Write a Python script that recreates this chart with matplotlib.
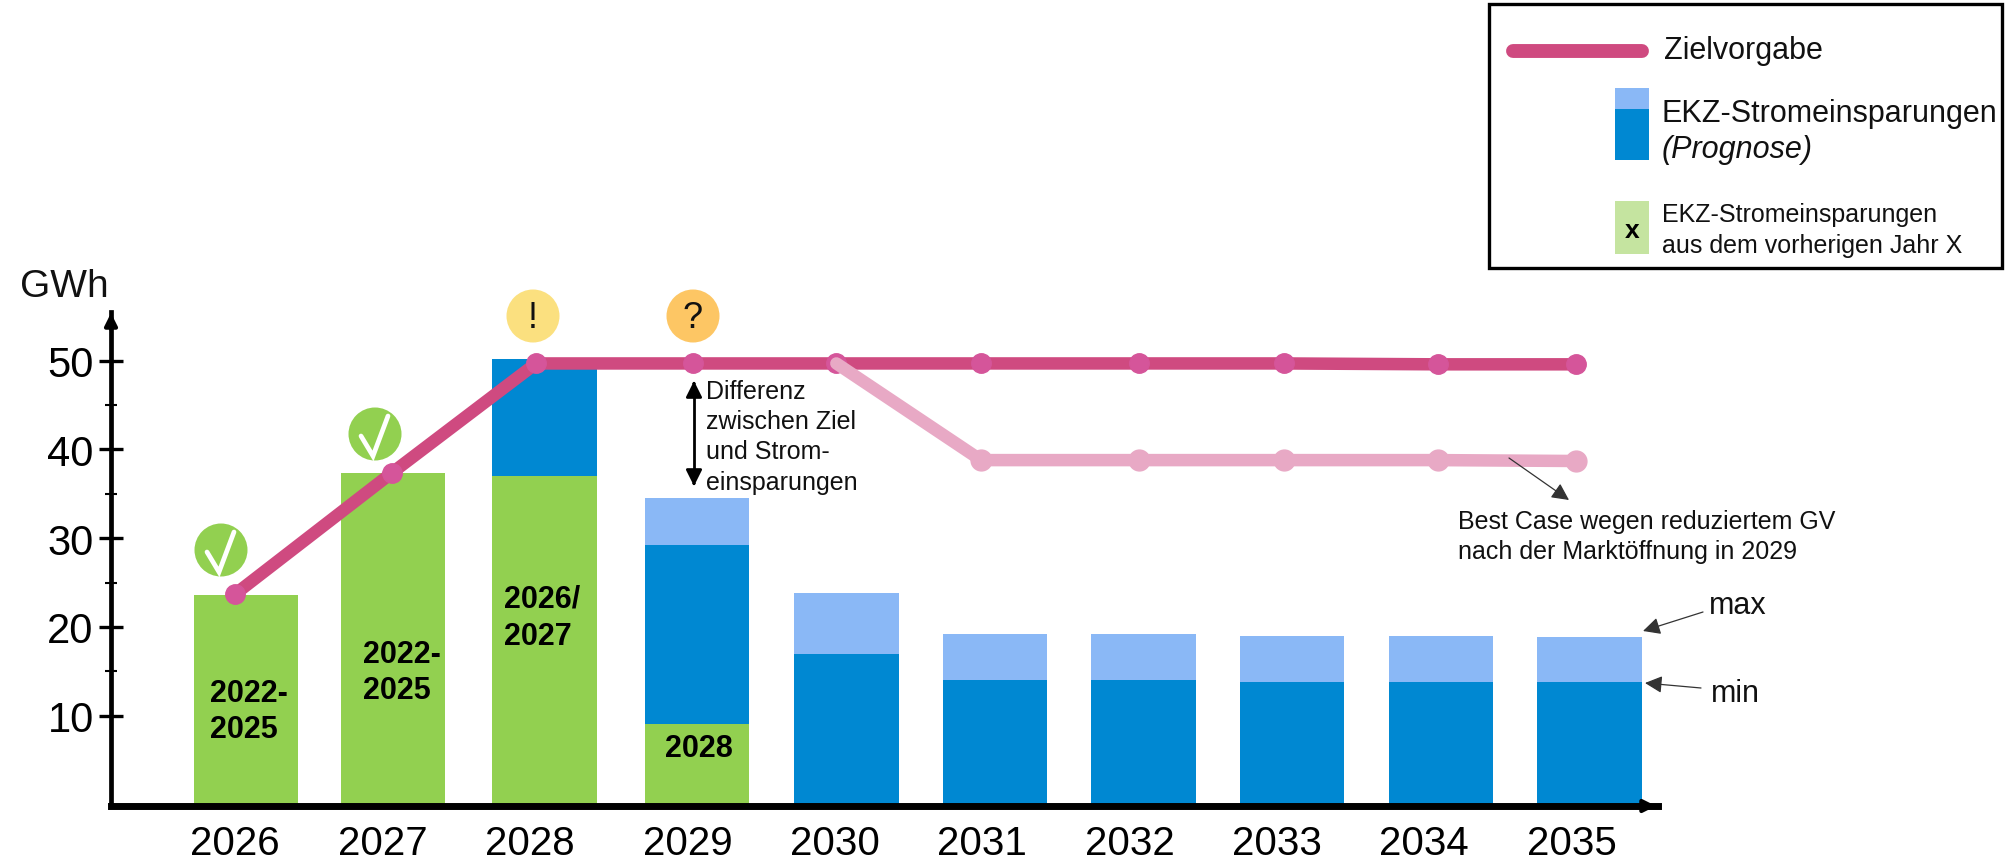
import numpy as np
from matplotlib import pyplot as plt
from matplotlib.patches import Circle, Rectangle

plt.rcParams['font.family'] = ['Liberation Sans', 'DejaVu Sans']

years = [2026, 2027, 2028, 2029, 2030, 2031, 2032, 2033, 2034, 2035]
green = [23.6, 37.3, 37.0, 9.0, 0, 0, 0, 0, 0, 0]
blue_top = [0, 0, 50.2, 29.2, 16.9, 14.0, 14.0, 13.8, 13.8, 13.8]
light_top = [0, 0, 0, 34.5, 23.8, 19.2, 19.2, 19.0, 19.0, 18.9]
target = [23.7, 37.4, 49.7, 49.7, 49.7, 49.7, 49.7, 49.7, 49.6, 49.6]
best_years = [2030, 2031, 2032, 2033, 2034, 2035]
best_case = [49.7, 38.8, 38.8, 38.8, 38.8, 38.7]

# the source slide is hand placed, so nothing sits exactly on the year
bar_shift = [0, -.015, 0, .02, .024, .019, .013, .007, .006, 0]
line_shift = [-.073, -.02, -.057, -.004, -.045, -.076, -.02, -.046, -.015, -.09]
label_shift = [-.073, -.087, -.10, -.04, -.053, -.067, -.08, -.09, -.11, -.12]

PINK = '#CF4A80'
PINK_DOT = '#D5559A'
PALE = '#E8A9C5'
BLUE = '#0088D2'
LIGHT = '#8AB8F6'
GREEN = '#92D050'

W, H = 2006, 862
fig = plt.figure(figsize=(W / 100, H / 100), dpi=100)

# chart axes, box taken from the pixel position of the axis lines
ax = fig.add_axes([111 / W, 1 - 807 / H, (1658 - 111) / W, (807 - 313) / H])
ax.set_xlim(2025.095, 2035.46)
ax.set_ylim(-0.2, 55.5)

bar_x = np.array(years) + np.array(bar_shift)
ax.bar(bar_x, light_top, width=0.7, color=LIGHT)
ax.bar(bar_x, blue_top, width=0.7, color=BLUE)
ax.bar(bar_x, green, width=0.7, color=GREEN)

line_x = np.array(years) + np.array(line_shift)
ax.plot(line_x[4:], best_case, color=PALE, lw=9, solid_capstyle='round', zorder=3.5)
ax.plot(line_x[4:][1:], best_case[1:], 'o', color=PALE, ms=15, zorder=3.5)
ax.plot(line_x, target, color=PINK, lw=9, solid_capstyle='round', zorder=3)
ax.plot(line_x, target, 'o', color=PINK_DOT, ms=14, zorder=3)

for s in ['top', 'right']:
    ax.spines[s].set_visible(False)
ax.spines['left'].set_linewidth(3.4)
ax.spines['bottom'].set_linewidth(5)
ax.patch.set_alpha(0)

ax.set_yticks([10, 20, 30, 40, 50])
ax.set_yticks([15, 25, 35, 45], minor=True)
ax.tick_params(axis='y', which='major', direction='inout', length=17, width=2.4, labelsize=30, pad=4)
ax.tick_params(axis='y', which='minor', direction='inout', length=9, width=1.5)
ax.set_xticks(np.array(years) + np.array(label_shift))
ax.set_xticklabels(years)
ax.tick_params(axis='x', length=0, labelsize=29, pad=13)

# overlay in pixel coordinates for the slide decorations
ov = fig.add_axes([0, 0, 1, 1])
ov.set_xlim(0, W)
ov.set_ylim(H, 0)
ov.axis('off')


def label(x, y, s, size, **kw):
    ov.text(x, y, s, fontsize=size, va='center', ha='left', color='#111111', **kw)


def arrow(x0, y0, x1, y1, style='-|>', lw=1.0, color='#333333', scale=26):
    ov.annotate('', xy=(x1, y1), xytext=(x0, y0),
                arrowprops=dict(arrowstyle=style, lw=lw, color=color, mutation_scale=scale,
                                shrinkA=0, shrinkB=0))


arrow(111, 330, 111, 314, lw=3, color='black', scale=18)
arrow(1630, 807, 1656, 807, lw=3, color='black', scale=18)

label(20, 287, 'GWh', 28)

# status badges
for cx, cy in [(221, 551), (375, 435)]:
    ov.add_patch(Circle((cx, cy), 26.5, color=GREEN, lw=0))
    ov.plot([cx - 14, cx - 2, cx + 13], [cy + 2, cy + 22, cy - 18], color='white', lw=3.4,
            solid_capstyle='round', solid_joinstyle='miter')
ov.add_patch(Circle((533, 317), 26.5, color='#FBE07F', lw=0))
ov.text(533, 319, '!', fontsize=26, ha='center', va='center', color='#111111')
ov.add_patch(Circle((693, 317), 26.5, color='#FDC664', lw=0))
ov.text(693, 319, '?', fontsize=26, ha='center', va='center', color='#111111')

# source years written into the green bars
for x, y, s in [(210, 694, '2022-'), (210, 730, '2025'), (363, 655, '2022-'), (363, 691, '2025'),
                (504, 600, '2026/'), (504, 637, '2027'), (665, 749, '2028')]:
    ov.text(x, y, s, fontsize=22, fontweight='bold', va='center', ha='left', color='black')

# gap arrow and notes
arrow(694, 385, 694, 382, lw=2, color='black', scale=24)
arrow(694, 484, 694, 487, lw=2, color='black', scale=24)
ov.plot([694, 694], [390, 480], color='black', lw=2)
for y, s in [(392, 'Differenz'), (422, 'zwischen Ziel'), (452, 'und Strom-'), (483, 'einsparungen')]:
    label(706, y, s, 18)

arrow(1509, 459, 1569, 501, lw=0.9)
label(1458, 522, 'Best Case wegen reduziertem GV', 18)
label(1458, 552, 'nach der Marktöffnung in 2029', 18)

arrow(1703, 613, 1643, 632, lw=0.9)
label(1709, 606, 'max', 22)
arrow(1701, 689, 1645, 684, lw=0.9)
label(1711, 694, 'min', 22)

# legend box
ov.add_patch(Rectangle((1489, 5), 513, 264, fill=False, ec='black', lw=2.4))
ov.plot([1513, 1642], [52, 52], color=PINK, lw=10, solid_capstyle='round')
label(1664, 51, 'Zielvorgabe', 22)
ov.add_patch(Rectangle((1615, 89), 34, 21, color=LIGHT, lw=0))
ov.add_patch(Rectangle((1615, 110), 34, 51, color=BLUE, lw=0))
label(1662, 114, 'EKZ-Stromeinsparungen', 22)
label(1662, 150, '(Prognose)', 22, style='italic')
ov.add_patch(Rectangle((1615, 202), 34, 53, color='#C5E4A0', lw=0))
ov.text(1632, 231, 'x', fontsize=19, fontweight='bold', ha='center', va='center', color='black')
label(1662, 215, 'EKZ-Stromeinsparungen', 18)
label(1662, 246, 'aus dem vorherigen Jahr X', 18)

fig.savefig('out.png', dpi=100, facecolor='white')
